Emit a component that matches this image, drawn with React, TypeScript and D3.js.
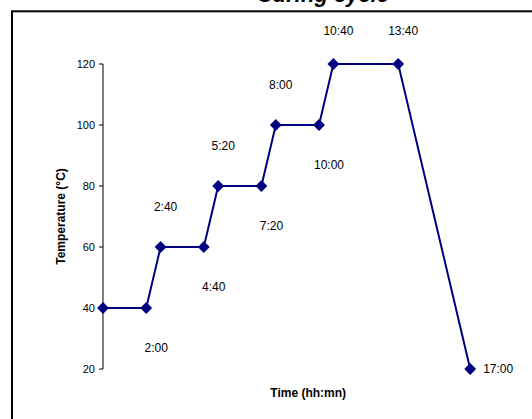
import React from "react";
import * as d3 from "d3";

// time in minutes since start
const times = [0, 120, 160, 280, 320, 440, 480, 600, 640, 820, 1020];
const temps = [40, 40, 60, 60, 80, 80, 100, 100, 120, 120, 20];
const labelPos = ["none", "below", "above", "below", "above", "below", "above", "below", "above", "above", "right"];
const yTicks = [20, 40, 60, 80, 100, 120];
const title = "Curing cycle";
const xTitle = "Time (hh:mn)";
const yTitle = "Temperature (°C)";

const fmt = (t: number) => `${Math.floor(t / 60)}:${String(t % 60).padStart(2, "0")}`;

export default function App() {
  const W = 532, H = 419;
  const x = d3.scaleLinear().domain([0, 1140]).range([103, 513.4]);
  const y = d3.scaleLinear().domain([20, 120]).range([369, 64]);
  const pts = times.map((t, i) => [x(t), y(temps[i])] as [number, number]);
  const line = d3.line()(pts) || "";
  const diamond = d3.symbol().type(d3.symbolDiamond2).size(90)() || "";
  const font = "Arial, 'Liberation Sans', sans-serif";
  return (
    <svg width={W} height={H} style={{ position: "absolute", left: 0, top: 0, background: "#fff" }} fontFamily={font}>
      <rect x={12} y={11.3} width={560} height={460} fill="#fff" stroke="#000" strokeWidth={2} />
      <text x={323} y={2} textAnchor="middle" fontSize={22} fontWeight="bold" fontStyle="italic" fill="#000">{title}</text>
      {/* y axis */}
      <line x1={103} x2={103} y1={y(120)} y2={y(20)} stroke="#000" strokeWidth={1} />
      {yTicks.map((v) => (
        <g key={v}>
          <line x1={99} x2={103} y1={y(v)} y2={y(v)} stroke="#000" strokeWidth={1} />
          <text x={95} y={y(v)} textAnchor="end" dominantBaseline="central" fontSize={11} fill="#000">{v}</text>
        </g>
      ))}
      <text transform={`translate(61,${(y(20) + y(120)) / 2 + 0}) rotate(-90)`} textAnchor="middle" dominantBaseline="central" fontSize={12} fontWeight="bold" fill="#000">{yTitle}</text>
      <text x={(x(0) + x(1140)) / 2} y={393} textAnchor="middle" dominantBaseline="central" fontSize={12} fontWeight="bold" fill="#000">{xTitle}</text>
      <path d={line} fill="none" stroke="#000080" strokeWidth={2} />
      {pts.map(([px, py], i) => (
        <path key={i} d={diamond} transform={`translate(${px},${py})`} fill="#000080" />
      ))}
      {pts.map(([px, py], i) => {
        const pos = labelPos[i];
        if (pos === "none") return null;
        let lx = px, ly = py, anchor = "middle";
        if (pos === "above") { lx = px + 5; ly = Math.max(py - 40, 31); }
        else if (pos === "below") { lx = px + 10; ly = py + 40; }
        else { lx = px + 13; ly = py; anchor = "start"; }
        return (
          <text key={"l" + i} x={lx} y={ly} textAnchor={anchor as any} dominantBaseline="central" fontSize={12} fill="#000">{fmt(times[i])}</text>
        );
      })}
    </svg>
  );
}
